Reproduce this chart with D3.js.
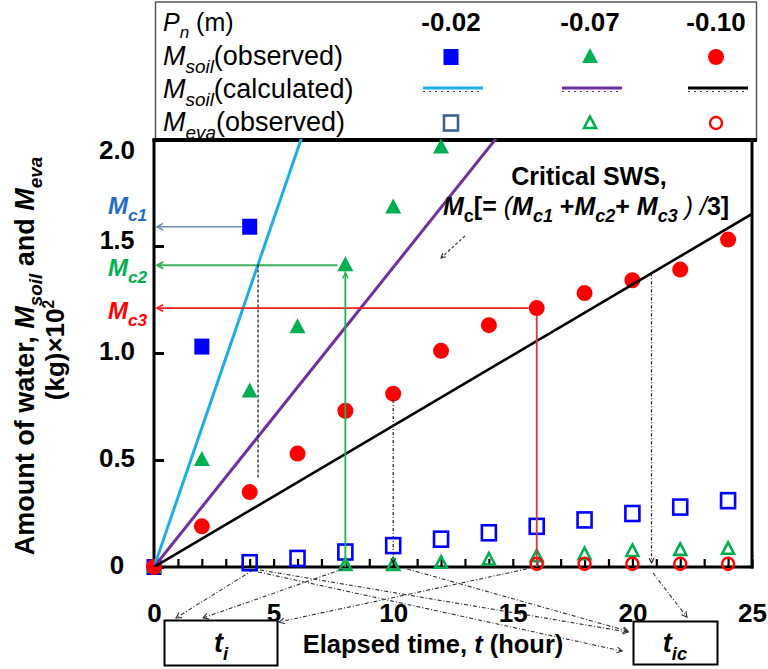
<!DOCTYPE html>
<html>
<head>
<meta charset="utf-8">
<script src="https://cdn.jsdelivr.net/npm/d3@7"></script>
<style>
  body { margin: 0; background: #fff; }
  svg { display: block; font-family: "Liberation Sans", Arial, sans-serif; }
  text { white-space: pre; }
</style>
</head>
<body>
<svg id="chart" width="768" height="669"></svg>
<script>
// ---- measured data -------------------------------------------------------
// soil water mass M_soil (kg x 10^2) by elapsed time (hour), three suction heads
const timeSoilA = [0, 2, 4];
const soilA     = [0, 1.03, 1.59];                       // Pn = -0.02 m
const timeSoilB = [0, 2, 4, 6, 8, 10, 12];
const soilB     = [0, 0.50, 0.82, 1.12, 1.41, 1.68, 1.96]; // Pn = -0.07 m
const timeSoilC = [0, 2, 4, 6, 8, 10, 12, 14, 16, 18, 20, 22, 24];
const soilC     = [0, 0.19, 0.35, 0.53, 0.73, 0.81, 1.01, 1.13, 1.21, 1.28, 1.34, 1.39, 1.53]; // Pn = -0.10 m

// evaporated water M_eva (kg x 10^2)
const timeEvaA = [4, 6, 8, 10, 12, 14, 16, 18, 20, 22, 24];
const evaA     = [0.02, 0.04, 0.07, 0.10, 0.13, 0.16, 0.19, 0.22, 0.25, 0.28, 0.31];
const timeEvaB = [8, 10, 12, 14, 16, 18, 20, 22, 24];
const evaB     = [0.01, 0.01, 0.02, 0.035, 0.05, 0.06, 0.075, 0.08, 0.085];
const timeEvaC = [16, 18, 20, 22, 24];
const evaC     = [0.015, 0.015, 0.015, 0.015, 0.015];

// calculated M_soil: straight lines through the origin, slope in kg x 10^2 per hour
const calcRates = [0.325, 0.140, 0.066];

// critical water storage of each series: time reached and mass
const critTimes  = [4, 8, 16];
const critMasses = [1.59, 1.41, 1.21];
// times at which the calculated lines reach the critical level
const ticTimes   = [4.35, 10, 20.8];

const headLabels  = ["-0.02", "-0.07", "-0.10"];
const xTicks      = [0, 5, 10, 15, 20, 25];
const xMinorTicks = d3.range(0, 26);
const yTicks      = [0, 0.5, 1.0, 1.5, 2.0];
const yTickLabels = ["0", "0.5", "1.0", "1.5", "2.0"];

// ---- styling -------------------------------------------------------------
const colSoil = ["#0000ff", "#00b050", "#ff0000"];
const colCalc = ["#1eaee6", "#7030a0", "#000000"];
const colCrit = ["#6f8db0", "#3aae60", "#ff2020"];
const colCritLabel = ["#1f6fc4", "#00b050", "#ff0000"];

const svg = d3.select("#chart");
const x = d3.scaleLinear().domain([0, 25]).range([154, 752]);
const y = d3.scaleLinear().domain([0, 2]).range([567, 139]);

// rich text with italic / sub / superscript pieces
function rich(sel, px, py, parts, o) {
  const t = sel.append("text")
    .attr("x", px).attr("y", py)
    .attr("font-size", o.size)
    .attr("font-weight", o.weight || "normal")
    .attr("text-anchor", o.anchor || "start")
    .attr("fill", o.fill || "#000");
  if (o.transform) t.attr("transform", o.transform);
  let shift = 0;
  parts.forEach(p => {
    const s = t.append("tspan").text(p.t);
    const target = p.sub ? o.size * 0.28 : p.sup ? -o.size * 0.4 : 0;
    if (target !== shift) { s.attr("dy", target - shift); shift = target; }
    if (p.sub || p.sup) s.attr("font-size", o.size * (p.scale || 0.68));
    if (p.i) s.attr("font-style", "italic");
    if (p.w) s.attr("font-weight", p.w);
    if (p.fill) s.attr("fill", p.fill);
  });
  return t;
}

// open chevron arrowhead at (x2,y2) pointing away from (x1,y1)
function chevron(g, x1, y1, x2, y2, size, color, width) {
  const a = Math.atan2(y2 - y1, x2 - x1);
  const s = size, sp = 0.5;
  const p1 = [x2 - s * Math.cos(a - sp), y2 - s * Math.sin(a - sp)];
  const p2 = [x2 - s * Math.cos(a + sp), y2 - s * Math.sin(a + sp)];
  g.append("path")
    .attr("d", `M${p1[0]},${p1[1]}L${x2},${y2}L${p2[0]},${p2[1]}`)
    .attr("fill", "none").attr("stroke", color).attr("stroke-width", width);
}

function arrow(g, x1, y1, x2, y2, o) {
  g.append("line")
    .attr("x1", x1).attr("y1", y1).attr("x2", x2).attr("y2", y2)
    .attr("stroke", o.color).attr("stroke-width", o.width)
    .attr("stroke-dasharray", o.dash || null);
  if (o.head !== false) chevron(g, x1, y1, x2, y2, o.size || 6, o.color, o.headWidth || o.width);
}

// marker shapes
const shapes = {
  square: (g, cx, cy, c) => g.append("rect").attr("x", cx - 7.5).attr("y", cy - 8).attr("width", 15).attr("height", 16).attr("fill", c),
  triangle: (g, cx, cy, c) => g.append("path").attr("d", `M${cx},${cy - 9}L${cx + 8},${cy + 6}L${cx - 8},${cy + 6}Z`).attr("fill", c),
  circle: (g, cx, cy, c) => g.append("circle").attr("cx", cx).attr("cy", cy).attr("r", 8).attr("fill", c),
  squareOpen: (g, cx, cy, c) => g.append("rect").attr("x", cx - 7).attr("y", cy - 7.5).attr("width", 14).attr("height", 15).attr("fill", "none").attr("stroke", c).attr("stroke-width", 2.6),
  triangleOpen: (g, cx, cy, c) => g.append("path").attr("d", `M${cx},${cy - 6.5}L${cx + 6},${cy + 5}L${cx - 6},${cy + 5}Z`).attr("fill", "none").attr("stroke", c).attr("stroke-width", 2.6),
  circleOpen: (g, cx, cy, c) => g.append("circle").attr("cx", cx).attr("cy", cy).attr("r", 6).attr("fill", "none").attr("stroke", c).attr("stroke-width", 2.4)
};

// ---- legend box ----------------------------------------------------------
const leg = svg.append("g");
leg.append("rect").attr("x", 155.5).attr("y", 2).attr("width", 601).attr("height", 138)
  .attr("fill", "#fff").attr("stroke", "#555").attr("stroke-width", 1.5);

const rowY = [31, 65, 98, 131];
const colX = [451, 590, 716];
const legSize = 27;
rich(leg, 163, rowY[0], [{ t: "P", i: true }, { t: "n", i: true, sub: true }, { t: " (m)" }], { size: 25 });
rich(leg, 163, rowY[1], [{ t: "M", i: true }, { t: "soil", i: true, sub: true, scale: 0.7 }, { t: "(observed)" }], { size: legSize });
rich(leg, 163, rowY[2], [{ t: "M", i: true }, { t: "soil", i: true, sub: true, scale: 0.7 }, { t: "(calculated)" }], { size: legSize });
rich(leg, 163, rowY[3], [{ t: "M", i: true }, { t: "eva", i: true, sub: true, scale: 0.7 }, { t: "(observed)" }], { size: legSize });

headLabels.forEach((h, i) => {
  leg.append("text").attr("x", colX[i]).attr("y", rowY[0]).attr("text-anchor", "middle")
    .attr("font-size", 26).attr("font-weight", "bold").text(h);
});
const filledShapes = ["square", "triangle", "circle"];
const openShapes = ["squareOpen", "triangleOpen", "circleOpen"];
const legendOpenCol = ["#3d5f95", "#00b050", "#ff0000"];
colX.forEach((cx, i) => {
  shapes[filledShapes[i]](leg, cx, 57, colSoil[i]);
  shapes[openShapes[i]](leg, cx, 123, legendOpenCol[i]);
  leg.append("line").attr("x1", cx - 28).attr("x2", cx + 32).attr("y1", 88).attr("y2", 88)
    .attr("stroke", colCalc[i]).attr("stroke-width", 3);
  leg.append("line").attr("x1", cx - 28).attr("x2", cx + 32).attr("y1", 91.5).attr("y2", 91.5)
    .attr("stroke", i === 1 ? colCalc[1] : "#333").attr("stroke-width", 1.1)
    .attr("stroke-dasharray", "2,4");
});

// ---- plot area -----------------------------------------------------------
svg.append("clipPath").attr("id", "plotClip").append("rect")
  .attr("x", x(0)).attr("y", y(2)).attr("width", x(25) - x(0)).attr("height", y(0) - y(2));

// axes with inward ticks
const yAxis = svg.append("g").attr("transform", `translate(${x(0)},0)`)
  .call(d3.axisLeft(y).tickValues(yTicks).tickSizeInner(-10).tickSizeOuter(0).tickPadding(37)
    .tickFormat((d, i) => yTickLabels[i]));
yAxis.select(".domain").remove();
yAxis.selectAll(".tick line").attr("stroke", "#000").attr("stroke-width", 3);
yAxis.selectAll(".tick text").attr("text-anchor", "middle").attr("font-weight", "bold")
  .attr("font-size", d => d === 1.5 ? 25 : 26)
  .attr("font-family", "Liberation Sans, Arial, sans-serif")
  .attr("dy", d => d === 2 ? "0.75em" : d === 1.5 ? "0.08em" : "0.25em");

const xAxis = svg.append("g").attr("transform", `translate(0,${y(0)})`)
  .call(d3.axisBottom(x).tickValues(xMinorTicks).tickSizeInner(-8).tickSizeOuter(0).tickPadding(37)
    .tickFormat(d => xTicks.includes(d) ? d : ""));
xAxis.select(".domain").remove();
xAxis.selectAll(".tick line").attr("stroke", "#000").attr("stroke-width", 2.2);
xAxis.selectAll(".tick text").attr("font-size", 26).attr("font-weight", "bold")
  .attr("font-family", "Liberation Sans, Arial, sans-serif");

// plot frame
const frame = svg.append("g").attr("stroke", "#000").attr("fill", "none");
frame.append("line").attr("x1", x(0)).attr("x2", x(0)).attr("y1", y(2)).attr("y2", y(0) + 1.5).attr("stroke-width", 3);
frame.append("line").attr("x1", x(0) - 1.5).attr("x2", x(25) + 1.5).attr("y1", y(0)).attr("y2", y(0)).attr("stroke-width", 3);
frame.append("line").attr("x1", x(25)).attr("x2", x(25)).attr("y1", y(2)).attr("y2", y(0) + 1.5).attr("stroke-width", 3);
frame.append("line").attr("x1", x(0) - 1.5).attr("x2", 757).attr("y1", y(2) + 1).attr("y2", y(2) + 1).attr("stroke-width", 4);

// ---- observed points -----------------------------------------------------
const pts = svg.append("g");
const evapSets = [[timeEvaA, evaA], [timeEvaB, evaB], [timeEvaC, evaC]];
evapSets.forEach(([ts, vs], i) => ts.forEach((t, j) => shapes[openShapes[i]](pts, x(t), y(vs[j]), colSoil[i])));
const soilSets = [[timeSoilA, soilA], [timeSoilB, soilB], [timeSoilC, soilC]];
soilSets.forEach(([ts, vs], i) => ts.forEach((t, j) => shapes[filledShapes[i]](pts, x(t), y(vs[j]), colSoil[i])));

// ---- calculated lines ----------------------------------------------------
const calc = svg.append("g").attr("clip-path", "url(#plotClip)");
const lineGen = d3.line().x(d => x(d[0])).y(d => y(d[1]));
calcRates.forEach((r, i) => {
  calc.append("path").attr("d", lineGen([[0, 0], [25, r * 25]]))
    .attr("fill", "none").attr("stroke", colCalc[i]).attr("stroke-width", i === 2 ? 2.6 : 3);
});

// ---- critical storage guides ---------------------------------------------
const guide = svg.append("g");
critTimes.forEach((t, i) => {
  arrow(guide, x(t) - 8, y(critMasses[i]), x(0) + 3, y(critMasses[i]),
    { color: colCrit[i], width: i === 0 ? 1.6 : 1.8, size: 7 });
});
// vertical drops from the critical points to the time axis
guide.append("line").attr("x1", x(critTimes[1])).attr("x2", x(critTimes[1]))
  .attr("y1", y(critMasses[1]) + 6).attr("y2", y(0)).attr("stroke", "#22b14c").attr("stroke-width", 1.8);
chevron(guide, x(critTimes[1]), y(0), x(critTimes[1]), y(critMasses[1]) + 8, 6, "#22b14c", 1.4);
guide.append("line").attr("x1", x(critTimes[2])).attr("x2", x(critTimes[2]))
  .attr("y1", y(critMasses[2]) + 8).attr("y2", y(0)).attr("stroke", "#d33a3a").attr("stroke-width", 1.8);

// M_c labels next to the y axis
const critSubs = ["c1", "c2", "c3"];
const critLabelY = [214, 276, 319];
critSubs.forEach((s, i) => {
  rich(svg, 108, critLabelY[i], [{ t: "M", i: true }, { t: s, i: true, sub: true, scale: 0.72 }],
    { size: 24, weight: "bold", fill: colCritLabel[i] });
});

// dotted drops where the calculated lines reach the critical level
const dotStyle = { color: "#222", width: 1.2, dash: "3,2,1,2", size: 5 };
guide.append("line").attr("x1", x(ticTimes[0])).attr("x2", x(ticTimes[0]))
  .attr("y1", y(calcRates[0] * ticTimes[0])).attr("y2", y(0.41))
  .attr("stroke", "#222").attr("stroke-width", 1.3).attr("stroke-dasharray", "3,2");
arrow(guide, x(ticTimes[1]), y(0.78), x(ticTimes[1]), y(0.02), dotStyle);
arrow(guide, x(ticTimes[2]), y(calcRates[2] * ticTimes[2]), x(ticTimes[2]), y(0.02), dotStyle);

// guide arrows from the time axis to the t_i and t_ic boxes (hours, kg x 10^2)
const tiArrows = [
  [[4.14, -0.014], [0.92, -0.238]],
  [[7.90, -0.009], [2.05, -0.238]],
  [[15.59, -0.009], [5.23, -0.257]]
];
const ticArrows = [
  [[4.43, -0.014], [19.82, -0.304]],
  [[10.58, -0.009], [19.82, -0.300]],
  [[4.35, -0.023], [19.57, -0.393]],
  [[20.86, -0.028], [22.28, -0.234]]
];
tiArrows.concat(ticArrows).forEach(([a, b]) => {
  arrow(guide, x(a[0]), y(a[1]), x(b[0]), y(b[1]), { color: "#333", width: 1.1, dash: "4,2,1,2", size: 6 });
});

// critical SWS note
rich(svg, 589, 185, [{ t: "Critical SWS," }], { size: 25, weight: "bold", anchor: "middle" });
rich(svg, 443, 215, [
  { t: "M", i: true }, { t: "c", sub: true, scale: 0.72 }, { t: "[= " }, { t: "(", i: true, w: "normal" },
  { t: "M", i: true }, { t: "c1", i: true, sub: true, scale: 0.72 }, { t: " +" },
  { t: "M", i: true }, { t: "c2", i: true, sub: true, scale: 0.72 }, { t: "+ " },
  { t: "M", i: true }, { t: "c3", i: true, sub: true, scale: 0.72 }, { t: " ", w: "normal" },
  { t: ")", i: true, w: "normal" }, { t: " " }, { t: "/", i: true, w: "normal" }, { t: "3]" }
], { size: 25, weight: "bold" });
arrow(guide, x(13.0), y(1.547), x(12.0), y(1.444), { color: "#333", width: 1.1, dash: "3,2", size: 5 });

// ---- time boxes & axis titles --------------------------------------------
svg.append("rect").attr("x", 164.5).attr("y", 620.5).attr("width", 113).attr("height", 45)
  .attr("fill", "#fff").attr("stroke", "#000").attr("stroke-width", 2);
svg.append("rect").attr("x", 633.5).attr("y", 621.5).attr("width", 84).attr("height", 43)
  .attr("fill", "#fff").attr("stroke", "#000").attr("stroke-width", 2);
rich(svg, 221, 652, [{ t: "t", i: true }, { t: "i", i: true, sub: true }], { size: 27, weight: "bold", anchor: "middle" });
rich(svg, 675, 652, [{ t: "t", i: true }, { t: "ic", i: true, sub: true }], { size: 27, weight: "bold", anchor: "middle" });

rich(svg, 433, 653, [{ t: "Elapsed time, " }, { t: "t", i: true }, { t: " (hour)" }],
  { size: 25.5, weight: "bold", anchor: "middle" });

rich(svg, 0, 0, [
  { t: "Amount of water, " }, { t: "M", i: true }, { t: "soil", i: true, sub: true, scale: 0.7 },
  { t: " and " }, { t: "M", i: true }, { t: "eva", i: true, sub: true, scale: 0.7 }
], { size: 27, weight: "bold", anchor: "middle", transform: "translate(34,356) rotate(-90)" });
rich(svg, 0, 0, [{ t: "(kg)×10" }, { t: "2", sup: true, scale: 0.6 }],
  { size: 26, weight: "bold", anchor: "middle", transform: "translate(64,350) rotate(-90)" });
</script>
</body>
</html>
